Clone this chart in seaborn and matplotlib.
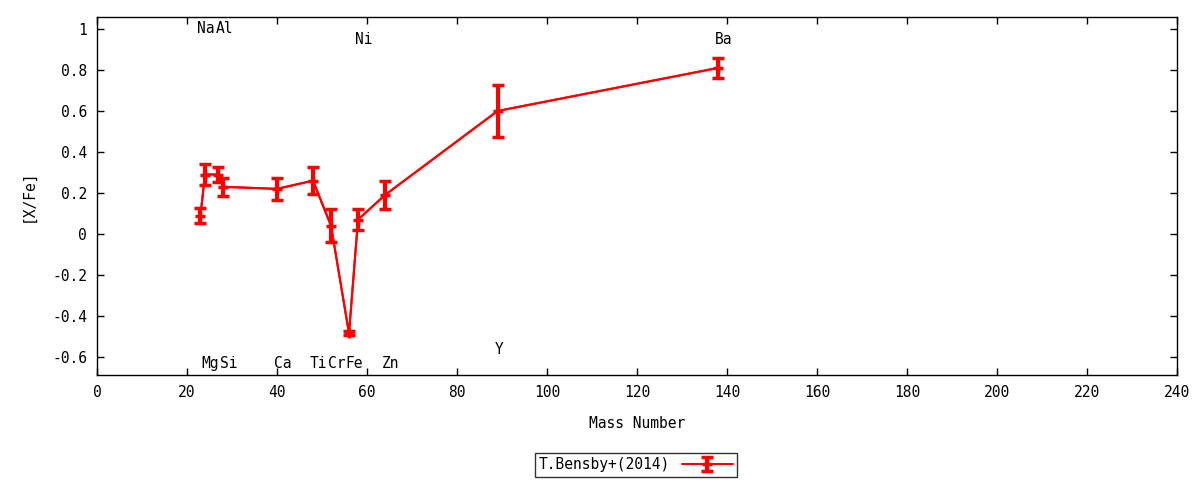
import matplotlib
matplotlib.use("Agg")
import matplotlib.pyplot as plt
import seaborn as sns
import pandas as pd
from matplotlib.ticker import FuncFormatter, MultipleLocator

elements = ["Na", "Mg", "Al", "Si", "Ca", "Ti", "Cr", "Fe", "Ni", "Zn", "Y", "Ba"]
mass_number = [23, 24, 27, 28, 40, 48, 52, 56, 58, 64, 89, 138]
x_fe = [0.09, 0.29, 0.29, 0.23, 0.22, 0.26, 0.04, -0.485, 0.07, 0.19, 0.60, 0.81]
x_fe_err = [0.035, 0.05, 0.035, 0.045, 0.055, 0.065, 0.08, 0.01, 0.05, 0.07, 0.125, 0.05]
label_y = [1.0, -0.63, 1.0, -0.63, -0.63, -0.63, -0.63, -0.63, 0.95, -0.63, -0.565, 0.95]
series_label = "T.Bensby+(2014)"

df = pd.DataFrame({"A": mass_number, "XFe": x_fe, "err": x_fe_err})

sns.set_style("ticks")
plt.rcParams["font.family"] = ["DejaVu Sans Mono", "DejaVu Sans"]
plt.rcParams["font.size"] = 10
for k in ["text.color", "axes.labelcolor", "xtick.color", "ytick.color", "axes.edgecolor"]:
    plt.rcParams[k] = "black"

fig = plt.figure(figsize=(12, 4.8), dpi=100)
ax = fig.add_axes([0.0808, 0.2188, 0.981 - 0.0808, 0.9646 - 0.2188])

cont = ax.errorbar(df["A"], df["XFe"], yerr=df["err"], fmt="+-", color="red",
                   lw=1.5, elinewidth=3, capsize=4, capthick=3, markersize=7,
                   markeredgewidth=2.5, label=series_label, zorder=3)
sns.lineplot(data=df, x="A", y="XFe", color="red", lw=1.5, ax=ax, legend=False,
             sort=False, zorder=4)

for el, a, ly in zip(elements, mass_number, label_y):
    ax.text(a - 0.7, ly, el, ha="left", va="center", fontsize=10.5, color="black")

ax.set_xlim(0, 240)
ax.set_ylim(-0.688, 1.0585)
ax.xaxis.set_major_locator(MultipleLocator(20))
ax.yaxis.set_major_locator(MultipleLocator(0.2))
ax.yaxis.set_major_formatter(FuncFormatter(lambda v, p: "%g" % round(v, 2)))
ax.tick_params(direction="in", top=True, right=True, length=5, width=1, colors="black",
               labelsize=10.5, pad=7)
for s in ax.spines.values():
    s.set_linewidth(1)
    s.set_color("black")
ax.set_xlabel("Mass Number", labelpad=12, color="black", fontsize=10.5)
ax.set_ylabel("[X/Fe]", labelpad=12, color="black", fontsize=10.5)

leg = fig.legend(handles=[cont], labels=[series_label], loc="center",
                 bbox_to_anchor=(0.53, 0.032), fancybox=False, frameon=True,
                 edgecolor="black", markerfirst=False, handlelength=3.5,
                 borderpad=0.3, fontsize=10.5)
leg.get_frame().set_linewidth(1)
for t in leg.get_texts():
    t.set_color("black")

fig.savefig("out.png", dpi=100)
